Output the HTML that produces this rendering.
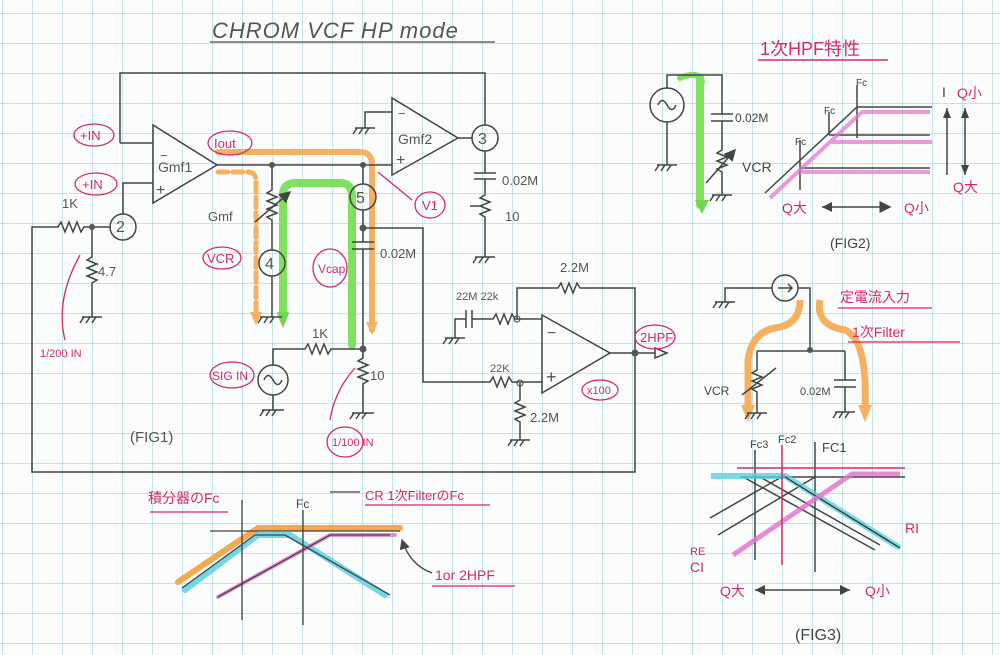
<!DOCTYPE html>
<html><head><meta charset="utf-8"><style>
html,body{margin:0;padding:0;background:#fbfdfd}
svg{display:block}
text{font-family:"Liberation Sans","Noto Sans CJK JP",sans-serif}
</style></head><body>
<svg width="1000" height="655" viewBox="0 0 1000 655" xmlns="http://www.w3.org/2000/svg">
<defs>
<pattern id="g" x="2" y="13" width="30" height="30" patternUnits="userSpaceOnUse">
<path d="M0 0H30M0 0V30" stroke="#9fd6dc" stroke-width="1.3" fill="none"/>
</pattern>
<marker id="ah" markerWidth="8" markerHeight="8" refX="7" refY="4" orient="auto"><path d="M0 0L8 4L0 8z" fill="#444"/></marker>
</defs>
<rect width="1000" height="655" fill="#fbfdfd"/>
<rect width="1000" height="655" fill="url(#g)"/>

<!-- title -->
<text x="212" y="38" font-size="22" fill="#555" font-style="italic" letter-spacing="1">CHROM VCF HP mode</text>
<path d="M210 42 H495" stroke="#666" stroke-width="1.5"/>

<!-- highlights FIG1 -->
<g fill="none" stroke-linecap="round" stroke-linejoin="round">
<path d="M218 152 H360 Q372 152 372 165 V330" stroke="#f5b060" stroke-width="6"/>
<path d="M218 172 H248 Q256 172 256 182 V315" stroke="#f5b060" stroke-width="5" stroke-dasharray="10 5"/>
<path d="M283 318 V195 Q283 183 296 183 H340 Q352 183 352 196 V345" stroke="#80e060" stroke-width="8"/>
<path d="M700 78 V205" stroke="#80e060" stroke-width="8"/>
<path d="M680 78 Q700 70 702 82" stroke="#80e060" stroke-width="6"/>
</g>
<path d="M250 312 L256 325 L262 312z M277 314 L283 328 L289 314z M366 322 L372 335 L378 322z" fill="#f5b060"/>
<path d="M277 312 L283 328 L289 312z M695 200 L702 214 L709 200z" fill="#70d850"/>

<!-- FIG1 circuit -->
<g fill="none" stroke="#444" stroke-width="1.5">
<path d="M120 143 V73 H485 V125"/>
<path d="M120 143 H153"/>
<path d="M153 125 V203 L217 165 Z"/>
<path d="M123 214 V183 H153"/>
<circle cx="123" cy="227" r="13"/>
<path d="M32 470 V227 H58 l3 -5 l4 10 l4 -10 l4 10 l4 -10 l4 10 l3 -5 H110"/>
<path d="M92 227 V257 l-5 3 l10 4 l-10 4 l10 4 l-10 4 l10 4 l-5 3 V317"/>
<path d="M82 317 H102 M84 317 l-4 6 M90 317 l-4 6 M96 317 l-4 6"/>
<path d="M217 165 H392"/>
<path d="M392 98 V175 L458 138 Z"/>
<path d="M392 112 H365 V128"/>
<path d="M355 128 H375 M357 128 l-4 6 M363 128 l-4 6 M369 128 l-4 6"/>
<path d="M458 138 H472"/>
<circle cx="485" cy="138" r="13"/>
<path d="M485 151 V173 M474 173 H496 M474 179 H496 M485 179 V195 l-5 3 l10 4 l-10 4 l-10 0 M485 195 l-5 3 l10 4 l-10 4 l10 4 l-10 4 l5 3 V257"/>
<path d="M475 257 H495 M477 257 l-4 6 M483 257 l-4 6 M489 257 l-4 6"/>
<path d="M272 165 V190 l-5 3 l10 4 l-10 4 l10 4 l-10 4 l10 4 l-10 4 l5 3 V250"/>
<path d="M255 222 L290 192" marker-end="url(#ah)"/>
<circle cx="272" cy="263" r="13"/>
<path d="M272 276 V317 M260 317 H282 M262 317 l-4 6 M268 317 l-4 6 M274 317 l-4 6"/>
<path d="M363 165 V184"/>
<circle cx="363" cy="197" r="13"/>
<path d="M363 210 V242 M352 242 H374 M352 249 H374 M363 249 V349"/>
<path d="M363 228 H423 V382 H490 l3 -5 l4 10 l4 -10 l4 10 l4 -10 l3 5 H542"/>
<path d="M273 365 V349 H305 l3 -5 l4 10 l4 -10 l4 10 l4 -10 l4 10 l3 -5 H363"/>
<circle cx="273" cy="380" r="15"/>
<path d="M264 380 q4 -9 9 0 q5 9 9 0"/>
<path d="M273 395 V410 M262 410 H284 M264 410 l-4 6 M270 410 l-4 6 M276 410 l-4 6"/>
<path d="M363 349 V358 l-5 3 l10 4 l-10 4 l10 4 l-10 4 l10 4 l-5 3 V413 M352 413 H374 M354 413 l-4 6 M360 413 l-4 6 M366 413 l-4 6"/>
<path d="M542 315 V393 L610 353 Z"/>
<path d="M610 353 H655 M635 353 V288 H580 l-3 -5 l-4 10 l-4 -10 l-4 10 l-4 -10 l-3 5 H517 V319 H542"/>
<path d="M517 319 H515 l-3 -5 l-4 10 l-4 -10 l-4 10 l-4 -10 l-3 5 H472 M472 310 V328 M466 310 V328 M466 319 H455 V338 M445 338 H465 M447 338 l-4 6 M453 338 l-4 6 M459 338 l-4 6"/>
<path d="M520 383 V400 l-5 3 l10 4 l-10 4 l10 4 l-10 4 l5 3 V440 M510 440 H530 M512 440 l-4 6 M518 440 l-4 6 M524 440 l-4 6"/>
<path d="M635 353 V472 H32 V468"/>
<path d="M655 348 L667 353 L655 358 Z"/>
</g>
<g fill="#555">
<circle cx="92" cy="227" r="3"/><circle cx="272" cy="165" r="3"/><circle cx="363" cy="165" r="3"/>
<circle cx="363" cy="228" r="3.5"/><circle cx="363" cy="349" r="3.5"/><circle cx="635" cy="353" r="3.5"/>
</g>
<circle cx="517" cy="319" r="3" fill="none" stroke="#444"/><circle cx="520" cy="383" r="3" fill="none" stroke="#444"/>
<g font-size="13" fill="#555">
<text x="160" y="160">−</text><text x="156" y="195" font-size="16">+</text>
<text x="158" y="172" font-size="14">Gmf1</text>
<text x="398" y="118">−</text><text x="396" y="165" font-size="16">+</text>
<text x="398" y="144" font-size="14">Gmf2</text>
<text x="547" y="338" font-size="16">−</text><text x="546" y="383" font-size="18">+</text>
<text x="116" y="232" font-size="16">2</text><text x="478" y="144" font-size="16">3</text>
<text x="265" y="269" font-size="16">4</text><text x="356" y="203" font-size="16">5</text>
<text x="62" y="208">1K</text><text x="98" y="276">4.7</text>
<text x="208" y="221">Gmf</text>
<text x="380" y="258">0.02M</text>
<text x="502" y="185">0.02M</text><text x="505" y="221">10</text>
<text x="312" y="338">1K</text><text x="370" y="380">10</text>
<text x="560" y="272">2.2M</text><text x="456" y="300" font-size="11">22M 22k</text>
<text x="490" y="372" font-size="11">22K</text><text x="530" y="422">2.2M</text>
<text x="130" y="442" font-size="15">(FIG1)</text>
</g>
<!-- pink labels FIG1 -->
<g fill="none" stroke="#d42a6a" stroke-width="1.3">
<ellipse cx="94" cy="135" rx="20" ry="11"/><ellipse cx="96" cy="184" rx="21" ry="11"/>
<ellipse cx="230" cy="143" rx="22" ry="12"/><ellipse cx="430" cy="205" rx="15" ry="13"/>
<ellipse cx="222" cy="258" rx="19" ry="11"/><ellipse cx="330" cy="268" rx="17" ry="19"/>
<ellipse cx="232" cy="375" rx="22" ry="13"/><ellipse cx="345" cy="442" rx="18" ry="15"/>
<ellipse cx="655" cy="337" rx="20" ry="12"/><ellipse cx="600" cy="390" rx="18" ry="10"/>
<path d="M412 200 L378 172"/><path d="M65 340 Q55 300 80 255"/><path d="M330 420 Q335 390 355 368"/>
</g>
<g fill="#d42a6a" font-size="13">
<text x="80" y="140">+IN</text><text x="82" y="189">+IN</text><text x="214" y="148">Iout</text>
<text x="422" y="210">V1</text><text x="207" y="263">VCR</text><text x="318" y="273" font-size="12">Vcap</text>
<text x="212" y="380" font-size="12">SIG IN</text><text x="332" y="446" font-size="11">1/100 IN</text>
<text x="40" y="357" font-size="11">1/200 IN</text>
<text x="640" y="342" font-size="13">2HPF</text><text x="587" y="394" font-size="11">x100</text>
</g>

<!-- FIG2 -->
<text x="760" y="55" font-size="18" fill="#d42a6a">1次HPF特性</text>
<path d="M758 60 H888" stroke="#d42a6a" stroke-width="1.5"/>
<g fill="none" stroke="#444" stroke-width="1.5">
<circle cx="667" cy="105" r="17"/><path d="M658 105 q4 -9 9 0 q5 9 9 0"/>
<path d="M667 88 V75 H722 V114 M711 114 H733 M711 121 H733 M722 121 V150 l-5 3 l10 4 l-10 4 l10 4 l-10 4 l5 3 V195"/>
<path d="M706 183 L735 150" marker-end="url(#ah)"/>
<path d="M712 195 H732 M714 195 l-4 6 M720 195 l-4 6 M726 195 l-4 6"/>
<path d="M667 122 V165 M657 165 H677 M659 165 l-4 6 M665 165 l-4 6 M671 165 l-4 6"/>
<path d="M765 193 L857 107 H932 M829 135 H930 M800 168 H930 M857 85 V138 M829 112 V135 M800 140 V190"/>
<path d="M947 108 V175 M965 108 V175"/>
</g>
<g fill="none" stroke="#e070c8" stroke-width="4" opacity=".7">
<path d="M770 198 L862 112 H930 M829 142 H932 M800 172 H930"/>
</g>
<g fill="#444" font-size="12"><text x="735" y="122">0.02M</text><text x="742" y="172" font-size="14">VCR</text>
<text x="856" y="86" font-size="10">Fc</text><text x="824" y="114" font-size="10">Fc</text><text x="795" y="145" font-size="10">Fc</text>
<text x="830" y="248" font-size="14">(FIG2)</text><text x="942" y="97" font-size="14">I</text></g>
<path d="M822 207 H890" stroke="#444" stroke-width="1.5" fill="none" marker-end="url(#ah)"/>
<path d="M822 207 L832 202 V212Z M947 108 l-4 10 h8z M965 108 l-4 10 h8z M965 175 l-4 -10 h8z" fill="#444"/>
<g fill="#d42a6a" font-size="14"><text x="782" y="213">Q大</text><text x="904" y="213">Q小</text>
<text x="957" y="98">Q小</text><text x="953" y="192">Q大</text></g>

<!-- FIG3 -->
<path d="M800 300 Q800 325 775 328 Q752 332 748 360 V410 M820 300 Q815 325 845 330 Q868 340 865 410" fill="none" stroke="#f5b060" stroke-width="7"/>
<path d="M741 405 L748 422 L755 405Z M858 405 L865 422 L872 405Z" fill="#f5b060"/>
<g fill="none" stroke="#444" stroke-width="1.5">
<circle cx="785" cy="288" r="13"/><path d="M778 288 H792 M788 284 L792 288 L788 292"/>
<path d="M772 288 H725 V302 M715 302 H735 M717 302 l-4 6 M723 302 l-4 6 M729 302 l-4 6"/>
<path d="M798 288 H810 V350 M757 351 H845 M757 351 V370 l-5 3 l10 4 l-10 4 l10 4 l-10 4 l5 3 V413 M742 395 L776 368"/>
<path d="M845 351 V380 M834 380 H856 M834 387 H856 M845 387 V412"/>
<path d="M747 413 H767 M749 413 l-4 6 M755 413 l-4 6 M761 413 l-4 6 M835 412 H855 M837 412 l-4 6 M843 412 l-4 6 M849 412 l-4 6"/>
<path d="M755 450 V560 M815 442 V572 M740 477 H905"/>
<path d="M710 518 L785 475 M718 535 L815 477 M745 478 L875 550 M760 477 L880 545"/>
<path d="M755 590 H850"/>
</g>
<circle cx="810" cy="350" r="3" fill="#555"/>
<path d="M755 590 l10 -5 v10z M850 590 l-10 -5 v10z" fill="#444"/>
<path d="M711 476 H785 L900 548" fill="none" stroke="#5cd0e0" stroke-width="6" opacity=".8"/>
<path d="M785 477 L900 548" fill="none" stroke="#333" stroke-width="1.3"/>
<path d="M733 555 L852 474 H900" fill="none" stroke="#e070c8" stroke-width="5" opacity=".8"/>
<path d="M782 445 V565 M737 468 H905" stroke="#d42a6a" stroke-width="1.5" fill="none"/>
<g fill="#444" font-size="12"><text x="704" y="395">VCR</text><text x="800" y="395" font-size="11">0.02M</text>
<text x="750" y="448" font-size="11">Fc3</text><text x="778" y="443" font-size="11">Fc2</text><text x="822" y="452" font-size="13">FC1</text>
<text x="795" y="640" font-size="16">(FIG3)</text></g>
<g fill="#d42a6a" font-size="14"><text x="840" y="302">定電流入力</text><text x="852" y="337">1次Filter</text>
<text x="905" y="533">RI</text><text x="690" y="572">CI</text><text x="690" y="555" font-size="11">RE</text>
<text x="720" y="596">Q大</text><text x="865" y="596">Q小</text></g>
<path d="M838 308 H932 M848 342 H960" stroke="#d42a6a" stroke-width="1.2"/>

<!-- bottom graph -->
<g fill="none" stroke-linecap="round">
<path d="M178 582 L258 528 H400" stroke="#f5a850" stroke-width="6"/>
<path d="M185 590 L258 535 H290 L385 595" stroke="#5cd0e0" stroke-width="6" opacity=".85"/>
<path d="M218 597 L330 535 H395" stroke="#e070c8" stroke-width="4" opacity=".8"/>
</g>
<g fill="none" stroke="#444" stroke-width="1.3">
<path d="M242 500 V620 M303 510 V625 M210 531 H400 M182 588 L255 535 H285 L390 595 M218 597 L330 535 H390"/>
</g>
<g fill="#d42a6a" font-size="14"><text x="148" y="503">積分器のFc</text><text x="365" y="500" font-size="13">CR 1次FilterのFc</text>
<text x="435" y="580">1or 2HPF</text></g>
<text x="296" y="508" font-size="12" fill="#444">Fc</text>
<path d="M150 512 H228 M365 505 H490 M432 586 H515" stroke="#d42a6a" stroke-width="1.2"/>
<path d="M360 492 H330 M432 573 Q410 565 402 540" stroke="#444" fill="none" stroke-width="1.3" marker-end="url(#ah)"/>
</svg>
</body></html>
